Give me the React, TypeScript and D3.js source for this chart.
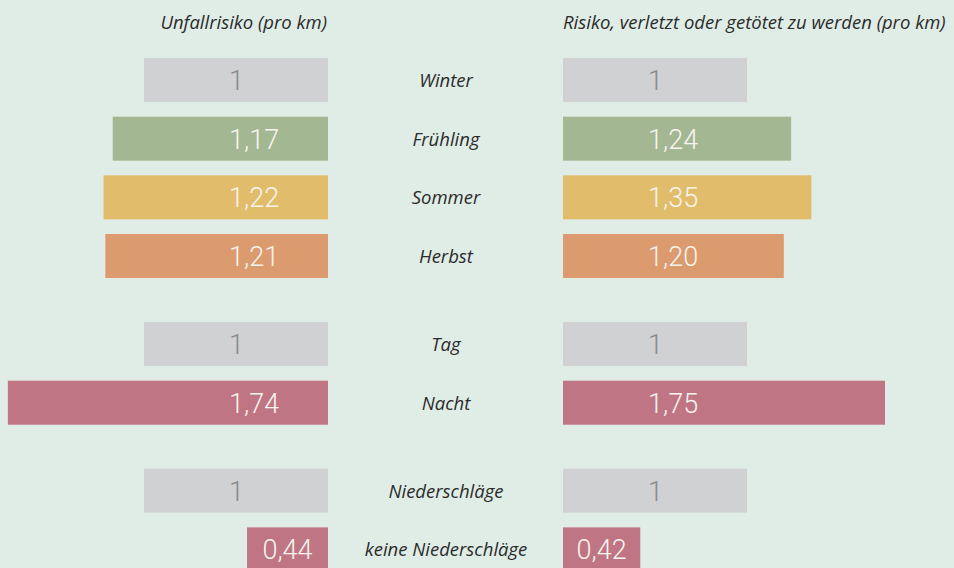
import React from "react";
import * as d3 from "d3";

const categories = ["Winter", "Frühling", "Sommer", "Herbst", "Tag", "Nacht", "Niederschläge", "keine Niederschläge"];
const groups = [0, 0, 0, 0, 1, 1, 2, 2];
const unfallrisiko = [1, 1.17, 1.22, 1.21, 1, 1.74, 1, 0.44];
const verletztRisiko = [1, 1.24, 1.35, 1.2, 1, 1.75, 1, 0.42];
const unfallLabels = ["1", "1,17", "1,22", "1,21", "1", "1,74", "1", "0,44"];
const verletztLabels = ["1", "1,24", "1,35", "1,20", "1", "1,75", "1", "0,42"];
const barColors = ["#d0d1d3", "#a3b792", "#e1bc6b", "#dc9a6f", "#d0d1d3", "#bf7583", "#d0d1d3", "#bf7583"];
const headerLeft = "Unfallrisiko (pro km)";
const headerRight = "Risiko, verletzt oder getötet zu werden (pro km)";

const W = 954;
const H = 568;
const BAR_H = 44;
const STEP = 58.67;
const GROUP_GAP = 0.5;

export default function App() {
  // slot index including gaps between groups
  const slots = categories.map((_, i) => i + groups[i] * GROUP_GAP);
  const y = d3.scaleLinear().domain([0, 1]).range([58, 58 + STEP]);
  const xLeft = d3.scaleLinear().domain([0, 1]).range([328, 144]);
  const xRight = d3.scaleLinear().domain([0, 1]).range([563, 747]);
  const midX = 446;

  const numFont = "Roboto, 'Open Sans', sans-serif";
  const txtFont = "'Open Sans', 'Noto Sans', sans-serif";

  return (
    <svg
      width={W}
      height={H}
      viewBox={`0 0 ${W} ${H}`}
      style={{ position: "absolute", left: 0, top: 0, display: "block" }}
    >
      <rect x={0} y={0} width={W} height={H} fill="#e0ede7" />
      <text x={327} y={29} textAnchor="end" fontFamily={txtFont} fontStyle="italic" fontSize={18.5} fill="#2b2b2b">
        {headerLeft}
      </text>
      <text x={563} y={29} textAnchor="start" fontFamily={txtFont} fontStyle="italic" fontSize={18.5} fill="#2b2b2b">
        {headerRight}
      </text>
      {categories.map((cat, i) => {
        const top = y(slots[i]);
        const cy = top + BAR_H / 2;
        const vl = unfallrisiko[i];
        const vr = verletztRisiko[i];
        const lx0 = xLeft(vl);
        const rx1 = xRight(vr);
        const isGray = barColors[i] === "#d0d1d3";
        const numColor = isGray ? "#8a8a8a" : "#f8f4ee";
        const leftTextX = vl < 1 ? (lx0 + xLeft(0)) / 2 : 229;
        const rightTextX = vr < 1 ? (xRight(0) + rx1) / 2 : 648;
        const leftAnchor = vl < 1 ? "middle" : "start";
        const rightAnchor = vr < 1 ? "middle" : "start";
        return (
          <g key={cat}>
            <rect x={lx0} y={top} width={xLeft(0) - lx0} height={BAR_H} fill={barColors[i]} />
            <rect x={xRight(0)} y={top} width={rx1 - xRight(0)} height={BAR_H} fill={barColors[i]} />
            <text
              x={leftTextX}
              y={cy + 10}
              textAnchor={leftAnchor}
              fontFamily={numFont}
              fontWeight={300}
              fontSize={27}
              fill={numColor}
            >
              {unfallLabels[i]}
            </text>
            <text
              x={rightTextX}
              y={cy + 10}
              textAnchor={rightAnchor}
              fontFamily={numFont}
              fontWeight={300}
              fontSize={27}
              fill={numColor}
            >
              {verletztLabels[i]}
            </text>
            <text
              x={midX}
              y={cy + 7}
              textAnchor="middle"
              fontFamily={txtFont}
              fontStyle="italic"
              fontSize={18.5}
              fill="#2b2b2b"
            >
              {cat}
            </text>
          </g>
        );
      })}
    </svg>
  );
}
